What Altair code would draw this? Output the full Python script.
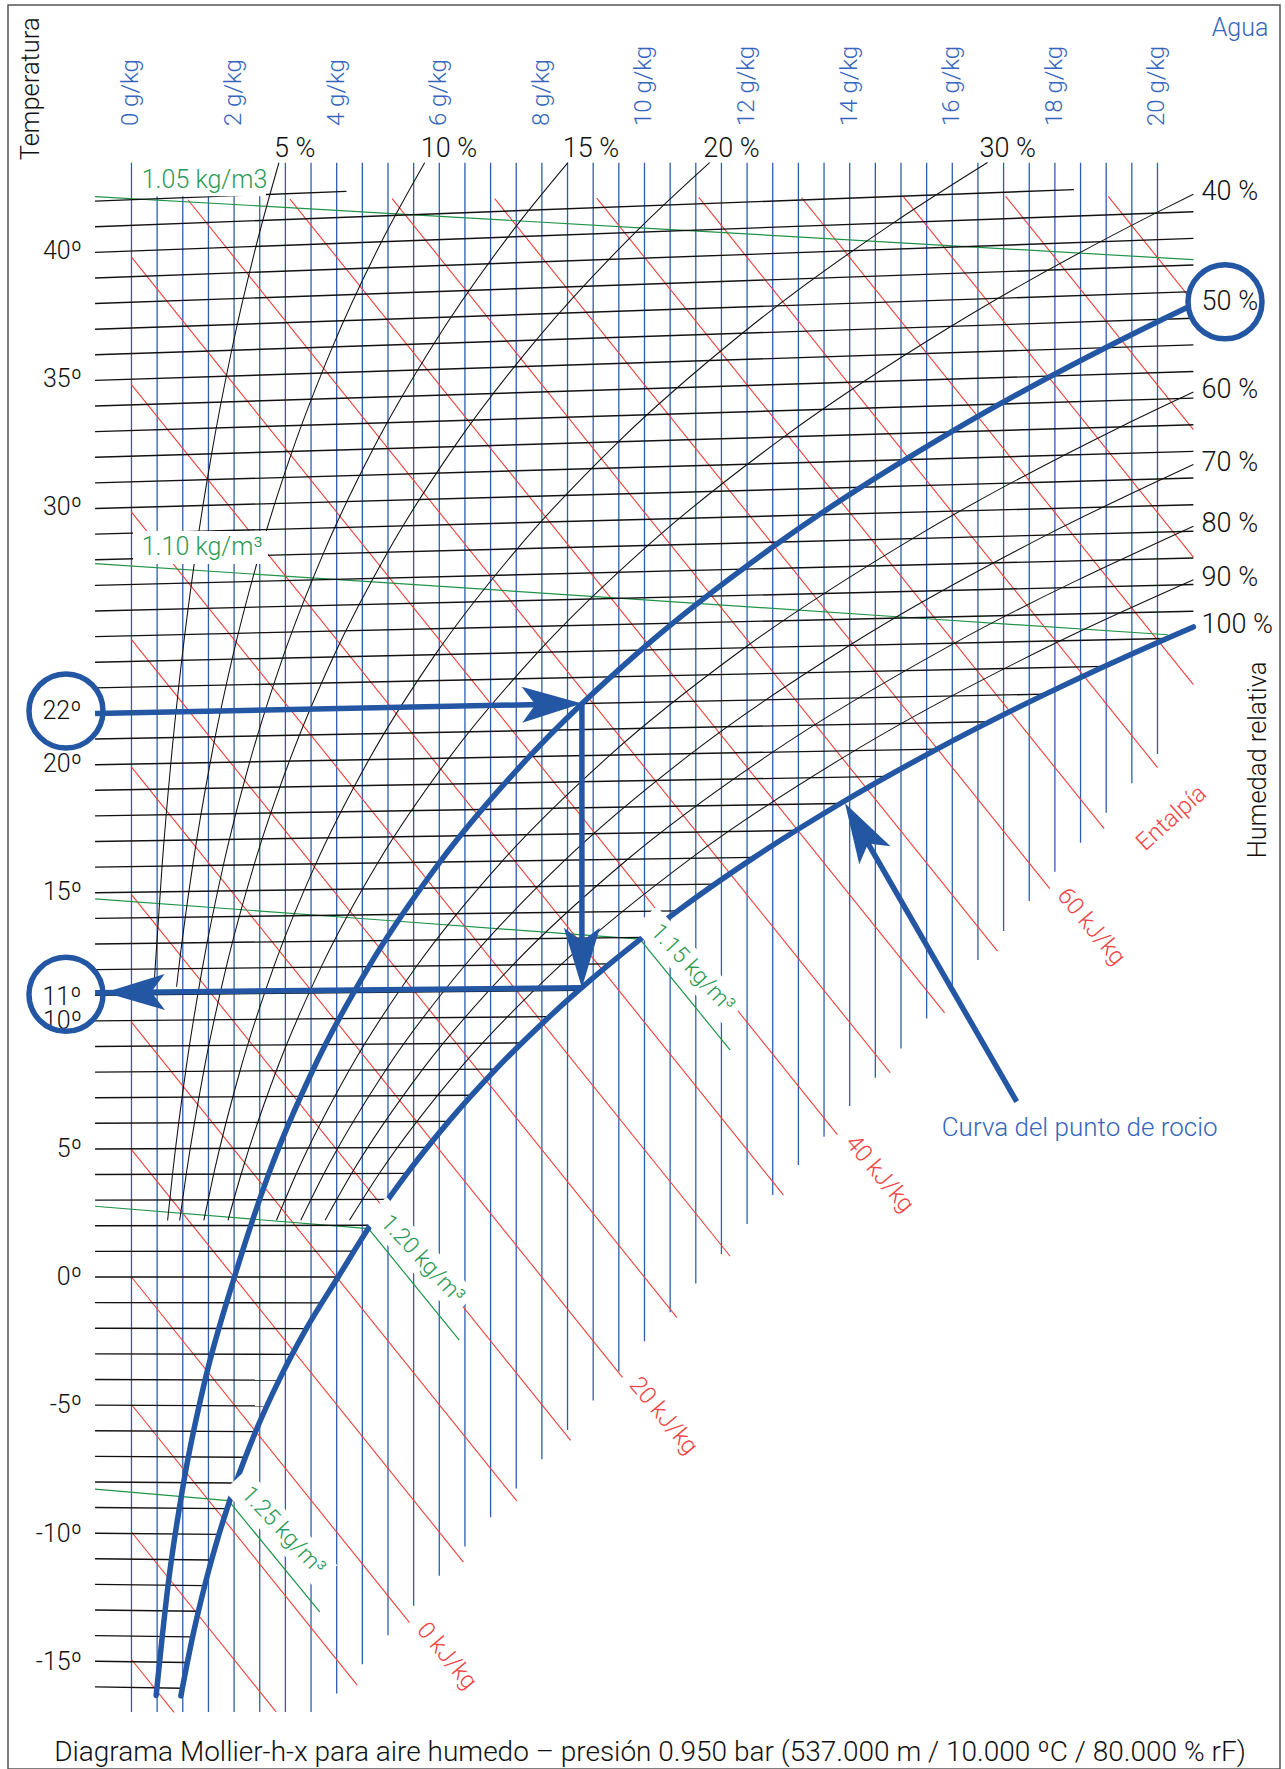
import altair as alt
import pandas as pd

# ---------------- chart values ----------------
SKEW = 0.001849            # Mollier skew: chart-y = T * (1 + SKEW * x[g/kg])
TOP_Y = 43.44              # upper edge of the grid (chart units)

ISO_T = list(range(-16, 43))
ISO_X_START = -0.71
ISO_X_END = [0.99, 1.08, 1.19, 1.30, 1.43, 1.56, 1.71, 1.86, 2.03, 2.22, 2.42,
             2.64, 2.88, 3.13, 3.41, 3.71, 4.03, 4.33, 4.66, 5.00, 5.37, 5.77,
             6.18, 6.63, 7.10, 7.61, 8.15, 8.72, 9.32, 9.97, 10.65, 11.37,
             12.14, 12.95, 13.82, 14.73, 15.70, 16.73, 17.82, 18.97, 20.18] \
            + [20.7] * 16 + [18.37, 4.19]

VERT_X = [i * 0.5 for i in range(41)]
VERT_Y_BOTTOM = [-16.96] * 8 + [
    -16.24, -15.10, -13.97, -12.82, -11.65, -10.51, -9.37, -8.24, -7.10, -5.96,
    -4.81, -3.68, -2.50, -1.37, -0.25, 0.90, 2.07, 3.20, 4.37, 5.47, 6.67, 7.77,
    8.91, 10.08, 11.19, 12.36, 13.49, 14.66, 15.80, 16.93, 18.10, 19.25, 20.39]

ENTH_H = list(range(-15, 95, 5))
ENTH_X_START = [0.0] * 12 + [1.10, 3.09, 5.08, 7.08, 9.07, 11.06, 13.06, 15.05, 17.04, 19.04]
ENTH_X_END = [0.83, 2.82, 4.40, 5.42, 6.47, 7.51, 8.56, 9.57, 10.63, 11.67, 12.71,
              13.76, 14.79, 15.85, 16.88, 17.90, 18.96, 20.00, 20.7, 20.7, 20.7, 20.7]

T_LOW = [2.2, 4, 8, 12, 16, 20, 24, 28, 32, 36, 40]
RH_T = {
    5: [11.3, 12, 16, 20, 24, 28, 32, 36, 40, 43.21],
    10: [11.3, 12, 16, 20, 24, 28, 32, 36, 40, 42.99],
    15: T_LOW + [42.77],
    20: T_LOW + [42.56],
    30: T_LOW + [42.15],
    40: T_LOW + [40.66],
    60: [2.2, 4, 8, 12, 16, 20, 24, 28, 32, 33.23],
    70: [2.2, 4, 8, 12, 16, 20, 24, 28, 30.51],
    80: [2.2, 4, 8, 12, 16, 20, 24, 28.19],
    90: [2.2, 4, 8, 12, 16, 20, 24, 26.18],
}
RH_X = {
    5: [0.439, 0.460, 0.596, 0.767, 0.979, 1.241, 1.562, 1.953, 2.427, 2.874],
    10: [0.879, 0.920, 1.193, 1.535, 1.961, 2.487, 3.132, 3.919, 4.873, 5.716],
    15: [0.704, 0.800, 1.056, 1.381, 1.791, 2.306, 2.946, 3.737, 4.709, 5.897, 7.338, 8.508],
    20: [0.939, 1.067, 1.408, 1.842, 2.390, 3.078, 3.934, 4.993, 6.295, 7.887, 9.823, 11.270],
    30: [1.410, 1.602, 2.115, 2.768, 3.593, 4.629, 5.920, 7.520, 9.491, 11.907, 14.852, 16.688],
    40: [1.882, 2.138, 2.823, 3.696, 4.799, 6.187, 7.919, 10.067, 12.719, 15.977, 19.961, 20.70],
    60: [2.827, 3.212, 4.244, 5.560, 7.227, 9.327, 11.954, 15.224, 19.276, 20.70],
    70: [3.300, 3.751, 4.957, 6.496, 8.448, 10.909, 13.991, 17.834, 20.70],
    80: [3.775, 4.290, 5.671, 7.436, 9.673, 12.499, 16.042, 20.70],
    90: [4.250, 4.831, 6.387, 8.378, 10.904, 14.096, 18.105, 20.70],
}
RH50_T = [-16.3, -12, -8, -4, 0, 4, 8, 12, 16, 20, 24, 28, 32, 36, 36.52]
RH50_X = [0.481, 0.713, 1.016, 1.435, 2.007, 2.675, 3.532, 4.627, 6.011, 7.753,
          9.930, 12.635, 15.980, 20.101, 20.70]
RH100_T = [-16.3, -14, -12, -10, -8, -6, -4, -2, 0, 2, 4, 6, 8, 10, 12, 14, 16, 18,
           20, 22, 24, 24.41]
RH100_X = [0.963, 1.191, 1.428, 1.706, 2.034, 2.420, 2.876, 3.408, 4.028, 4.657,
           5.372, 6.185, 7.105, 8.147, 9.322, 10.648, 12.139, 13.819, 15.702,
           17.815, 20.182, 20.70]

# density lines, chart coordinates (x g/kg, chart-y)
DENS = {
    "1.05": ([-0.71, 5, 10, 15, 20.7], [42.12, 41.47, 40.89, 40.32, 39.66]),
    "1.10": ([-0.71, 5, 10, 15, 20.2], [27.81, 27.06, 26.40, 25.73, 25.04]),
    "1.15": ([-0.71, 5, 9.91, 11.67], [14.74, 13.90, 13.17, 8.85]),
    "1.20": ([-0.71, 4.62, 6.39], [2.76, 1.886, -2.46]),
    "1.25": ([-0.71, 1.89, 3.67], [-8.27, -8.72, -13.05]),
}
BOX_X = [0.03, 0.03]
BOX_X2 = [2.62, 2.66]
BOX_Y = [42.13, 27.80]
BOX_Y2 = [43.6, 29.08]
BAND_X = [10.006, 4.743, 2.029]
BAND_Y = [14.031, 2.690, -7.899]
BAND_X2 = [11.760, 6.497, 3.784]
BAND_Y2 = [10.269, -1.072, -11.661]

DENS_LBL_FLAT = ["1.05 kg/m3", "1.10 kg/m³"]
DENS_LBL_FLAT_X = [0.2, 0.2]
DENS_LBL_FLAT_Y = [42.77, 28.47]
DENS_LBL_ROT = ["1.15 kg/m³", "1.20 kg/m³", "1.25 kg/m³"]
DENS_LBL_ROT_X = [10.936, 5.673, 2.959]
DENS_LBL_ROT_Y = [12.035, 0.694, -9.895]

TEMP_TICKS = [-15, -10, -5, 0, 5, 10, 15, 20, 30, 35, 40]
GKG_TICKS = [0, 2, 4, 6, 8, 10, 12, 14, 16, 18, 20]
RH_TOP_LBL = ["5 %", "10 %", "15 %", "20 %", "30 %"]
RH_TOP_X = [2.778, 5.637, 8.405, 11.146, 16.53]
RH_RIGHT_LBL = ["40 %", "60 %", "70 %", "80 %", "90 %", "100 %"]
RH_RIGHT_Y = [42.30, 34.58, 31.73, 29.36, 27.25, 25.42]

ENTH_LBL = ["0 kJ/kg", "20 kJ/kg", "40 kJ/kg", "60 kJ/kg"]
ENTH_LBL_X = [6.144, 10.366, 14.577, 18.704]
ENTH_LBL_Y = [-14.78, -5.42, 4.016, 13.657]

# example process (22 C / 50 % -> dew point 11 C)
SHAFT_X = [-0.71, 8.78, 8.78, 17.255]
SHAFT_Y = [21.97, 22.357, 11.28, 6.834]
SHAFT_X2 = [8.2, 8.78, -0.71, 14.345]
SHAFT_Y2 = [22.33, 12.45, 11.085, 16.948]
HEAD_X = [8.78, 8.78, -0.52, 13.908]
HEAD_Y = [22.357, 11.28, 11.09, 18.468]
HEAD_ANGLE = [358.8, 90, 179.4, 240.1]
RING_X = [-1.277, -1.277]
RING_Y = [22.07, 11.02]

# ---------------- styling ----------------
FONT = "Roboto"
FW = 300
BLUE_GRID = "#2d5fb1"
BLUE_THICK = "#2356a3"
BLUE_TEXT = "#3566bb"
RED = "#f2403a"
RED_TEXT = "#ef4444"
GREEN = "#1f9448"
GREEN_TEXT = "#2b9a55"
BLACK = "#111111"

XS = alt.Scale(domain=[-2.407, 22.388], nice=False, zero=False)
YS = alt.Scale(domain=[-19.18, 49.59], nice=False, zero=False)


def yc(t, x):
    return t * (1 + SKEW * x)


def X(f="x"):
    return alt.X(f"{f}:Q", scale=XS, axis=None)


def Y(f="y"):
    return alt.Y(f"{f}:Q", scale=YS, axis=None)


def text_layer(df, size, color, align="center", angle=0):
    mk = dict(font=FONT, fontWeight=FW, fontSize=size, color=color,
              align=align, baseline="middle")
    if angle:
        mk["angle"] = angle
    return alt.Chart(df).mark_text(**mk).encode(x=X(), y=Y(), text="t:N")


layers = []

# blue constant-x lines
vdf = pd.DataFrame({"x": VERT_X, "y": VERT_Y_BOTTOM, "y2": [TOP_Y] * len(VERT_X)})
layers.append(alt.Chart(vdf).mark_rule(color=BLUE_GRID, strokeWidth=1.3)
              .encode(x=X(), y=Y(), y2="y2:Q"))

# red enthalpy lines
edf = pd.DataFrame({"h": ENTH_H, "x": ENTH_X_START, "x2": ENTH_X_END})
edf["y"] = edf["h"] / 1.006 - 2.486 * edf["x"]
edf["y2"] = edf["h"] / 1.006 - 2.486 * edf["x2"]
layers.append(alt.Chart(edf).mark_rule(color=RED, strokeWidth=1.1)
              .encode(x=X(), y=Y(), x2="x2:Q", y2="y2:Q"))

# green density lines
rows = []
for k, (xs, ys) in DENS.items():
    for i, (a, b) in enumerate(zip(xs, ys)):
        rows.append({"id": k, "i": i, "x": a, "y": b})
gdf = pd.DataFrame(rows)
layers.append(alt.Chart(gdf).mark_line(color=GREEN, strokeWidth=1.2)
              .encode(x=X(), y=Y(), detail="id:N", order="i:Q"))

# black isotherms
idf = pd.DataFrame({"t": ISO_T, "x2": ISO_X_END})
idf["x"] = ISO_X_START
idf["y"] = yc(idf["t"], idf["x"])
idf["y2"] = yc(idf["t"], idf["x2"])
layers.append(alt.Chart(idf).mark_rule(color=BLACK, strokeWidth=1.4)
              .encode(x=X(), y=Y(), x2="x2:Q", y2="y2:Q"))

# thin relative-humidity curves
rows = []
for rh in RH_T:
    for i, (t, x) in enumerate(zip(RH_T[rh], RH_X[rh])):
        rows.append({"id": rh, "i": i, "x": x, "y": yc(t, x)})
rdf = pd.DataFrame(rows)
layers.append(alt.Chart(rdf).mark_line(color=BLACK, strokeWidth=1.05, interpolate="monotone")
              .encode(x=X(), y=Y(), detail="id:N", order="i:Q"))

# thick 50 % and 100 % curves (one layer each)
for ts, xs in ((RH50_T, RH50_X), (RH100_T, RH100_X)):
    tdf = pd.DataFrame({"i": list(range(len(ts))), "x": xs,
                        "y": [yc(t, x) for t, x in zip(ts, xs)]})
    layers.append(alt.Chart(tdf).mark_line(color=BLUE_THICK, strokeWidth=5.5,
                                           interpolate="monotone", strokeCap="round")
                  .encode(x=X(), y=Y(), order="i:Q"))

# white label boxes
bdf = pd.DataFrame({"x": BOX_X, "x2": BOX_X2, "y": BOX_Y, "y2": BOX_Y2})
layers.append(alt.Chart(bdf).mark_rect(color="white")
              .encode(x=X(), y=Y(), x2="x2:Q", y2="y2:Q"))
band = pd.DataFrame({"x": BAND_X, "y": BAND_Y, "x2": BAND_X2, "y2": BAND_Y2})
layers.append(alt.Chart(band).mark_rule(color="white", strokeWidth=32, strokeCap="butt")
              .encode(x=X(), y=Y(), x2="x2:Q", y2="y2:Q"))

# density labels
layers.append(text_layer(pd.DataFrame({"x": DENS_LBL_FLAT_X, "y": DENS_LBL_FLAT_Y,
                                       "t": DENS_LBL_FLAT}), 25, GREEN_TEXT, "left"))
layers.append(text_layer(pd.DataFrame({"x": DENS_LBL_ROT_X, "y": DENS_LBL_ROT_Y,
                                       "t": DENS_LBL_ROT}), 23, GREEN_TEXT, "center", 47))

# temperature labels
layers.append(text_layer(pd.DataFrame({"x": [-0.965] * len(TEMP_TICKS), "y": TEMP_TICKS,
                                       "t": [f"{v}º" for v in TEMP_TICKS]}), 25, BLACK, "right"))

# water content labels (top)
layers.append(text_layer(pd.DataFrame({"x": GKG_TICKS, "y": [44.87] * len(GKG_TICKS),
                                       "t": [f"{v} g/kg" for v in GKG_TICKS]}),
                         24, BLUE_TEXT, "left", 270))

# relative humidity labels
layers.append(text_layer(pd.DataFrame({"x": RH_TOP_X, "y": [43.98] * len(RH_TOP_X),
                                       "t": RH_TOP_LBL}), 27, BLACK, "left"))
layers.append(text_layer(pd.DataFrame({"x": [20.86] * len(RH_RIGHT_Y), "y": RH_RIGHT_Y,
                                       "t": RH_RIGHT_LBL}), 27, BLACK, "left"))

# enthalpy labels
layers.append(text_layer(pd.DataFrame({"x": ENTH_LBL_X, "y": ENTH_LBL_Y, "t": ENTH_LBL}),
                         24, RED_TEXT, "center", 50))
layers.append(text_layer(pd.DataFrame({"x": [20.277], "y": [17.88], "t": ["Entalpía"]}),
                         24, RED_TEXT, "center", 318))

# other texts
layers.append(text_layer(pd.DataFrame({"x": [-1.959, 21.95], "y": [46.32, 20.16],
                                       "t": ["Temperatura", "Humedad relativa"]}),
                         25.5, BLACK, "center", 270))
layers.append(text_layer(pd.DataFrame({"x": [21.608], "y": [48.69], "t": ["Agua"]}),
                         25, BLUE_TEXT, "center"))
layers.append(text_layer(pd.DataFrame({"x": [15.794], "y": [5.81],
                                       "t": ["Curva del punto de rocio"]}), 26, BLUE_TEXT, "left"))
layers.append(text_layer(pd.DataFrame({"x": [10.107], "y": [-18.56],
                                       "t": ["Diagrama Mollier-h-x para aire humedo – presión 0.950 bar "
                                             "(537.000 m / 10.000 ºC / 80.000 % rF)"]}),
                         28, BLACK, "center"))

# arrows
sh = pd.DataFrame({"x": SHAFT_X, "y": SHAFT_Y, "x2": SHAFT_X2, "y2": SHAFT_Y2})
layers.append(alt.Chart(sh).mark_rule(color=BLUE_THICK, strokeWidth=5.5)
              .encode(x=X(), y=Y(), x2="x2:Q", y2="y2:Q"))
hd = pd.DataFrame({"x": HEAD_X, "y": HEAD_Y, "a": HEAD_ANGLE})
layers.append(alt.Chart(hd).mark_point(shape="M0,0L-2,-0.6L-1.55,0L-2,0.6Z", filled=True,
                                       color=BLUE_THICK, size=3600, opacity=1, strokeWidth=0)
              .encode(x=X(), y=Y(), angle=alt.Angle("a:Q", scale=None)))

# circles
rg = pd.DataFrame({"x": RING_X, "y": RING_Y})
layers.append(alt.Chart(rg).mark_point(shape="circle", filled=False, color=BLUE_THICK,
                                       size=5476, strokeWidth=5.5, opacity=1)
              .encode(x=X(), y=Y()))
r50 = pd.DataFrame({"x": [21.316], "y": [38.02]})
layers.append(alt.Chart(r50).mark_point(shape="circle", filled=True, fill="white", stroke=BLUE_THICK,
                                        size=5476, strokeWidth=5.5, opacity=1, fillOpacity=1)
              .encode(x=X(), y=Y()))
layers.append(text_layer(pd.DataFrame({"x": [-1.355, -1.355], "y": [22.07, 10.93],
                                       "t": ["22º", "11º"]}), 25, BLACK, "center"))
layers.append(text_layer(pd.DataFrame({"x": [20.86], "y": [38.02], "t": ["50 %"]}),
                         27, BLACK, "left"))

chart = alt.layer(*layers).properties(
    width=1272, height=1764,
    padding={"left": 8, "top": 5, "right": 5, "bottom": 0},
    autosize=alt.AutoSizeParams(type="none"),
    background="white",
).configure_view(stroke="#555555", strokeWidth=1.5)

chart.save("out.html", embed_options={"renderer": "svg", "actions": False})
